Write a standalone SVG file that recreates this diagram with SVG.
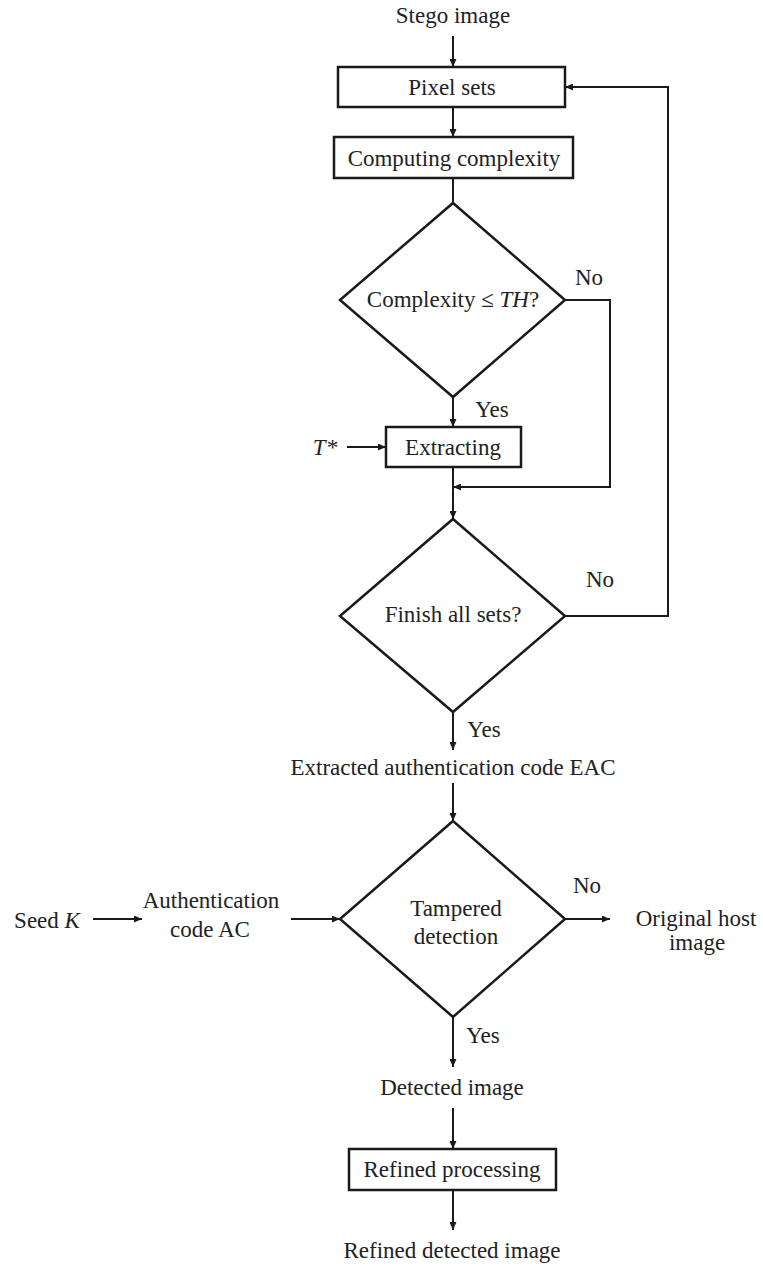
<svg xmlns="http://www.w3.org/2000/svg" width="763" height="1268" viewBox="0 0 763 1268">
<defs>
<marker id="arr" markerUnits="userSpaceOnUse" markerWidth="8" markerHeight="7" refX="8" refY="3.5" orient="auto">
<path d="M0,0 L8,3.5 L0,7 z" fill="#1a1a1a"/>
</marker>
<style>
text{font-family:"Liberation Serif","Times New Roman",serif;font-size:23px;fill:#222;text-anchor:middle}
.n{fill:#fff;stroke:#1a1a1a;stroke-width:2.5}
.c{fill:none;stroke:#1a1a1a;stroke-width:2}
.a{marker-end:url(#arr)}
.i{font-style:italic}
</style>
</defs>
<rect width="763" height="1268" fill="#fff"/>
<g id="connectors">
<line class="c a" x1="453" y1="36" x2="453" y2="67"/>
<line class="c a" x1="453" y1="107" x2="453" y2="137"/>
<line class="c" x1="453" y1="178" x2="453" y2="203"/>
<line class="c a" x1="453" y1="397" x2="453" y2="427"/>
<line class="c a" x1="347" y1="447" x2="386" y2="447"/>
<polyline class="c a" points="565,300 610,300 610,487 453,487"/>
<line class="c a" x1="453" y1="467" x2="453" y2="519"/>
<polyline class="c a" points="565,616 668,616 668,87 565,87"/>
<line class="c a" x1="453" y1="712" x2="453" y2="750"/>
<line class="c a" x1="453" y1="783" x2="453" y2="821"/>
<line class="c a" x1="93" y1="919" x2="142" y2="919"/>
<line class="c a" x1="291" y1="919" x2="340" y2="919"/>
<line class="c a" x1="565" y1="919" x2="610" y2="919"/>
<line class="c a" x1="453" y1="1017" x2="453" y2="1067"/>
<line class="c a" x1="453" y1="1108" x2="453" y2="1149"/>
<line class="c a" x1="453" y1="1190" x2="453" y2="1230"/>
</g>
<g id="labels">
<text x="589" y="285">No</text>
<text x="492" y="417">Yes</text>
<text x="600" y="587">No</text>
<text x="484" y="737">Yes</text>
<text x="587" y="893">No</text>
<text x="483" y="1043">Yes</text>
</g>
<g id="stego"><text x="453" y="23">Stego image</text></g>
<g id="pixel-sets"><rect class="n" x="338" y="67" width="227" height="40"/><text x="452" y="95">Pixel sets</text></g>
<g id="computing"><rect class="n" x="334" y="137" width="239" height="41"/><text x="454" y="166">Computing complexity</text></g>
<g id="complexity-check"><polygon class="n" points="453,203 565,300 453,397 340,300"/><text x="453" y="307">Complexity ≤ <tspan class="i">TH</tspan>?</text></g>
<g id="tstar"><text x="325" y="455" class="i">T*</text></g>
<g id="extracting"><rect class="n" x="386" y="427" width="135" height="40"/><text x="453" y="455">Extracting</text></g>
<g id="finish-check"><polygon class="n" points="453,519 565,616 453,712 340,616"/><text x="453" y="622">Finish all sets?</text></g>
<g id="eac"><text x="453" y="775">Extracted authentication code EAC</text></g>
<g id="seed"><text x="47" y="928">Seed <tspan class="i">K</tspan></text></g>
<g id="ac"><text x="211" y="908">Authentication</text><text x="210" y="937">code AC</text></g>
<g id="tampered-check"><polygon class="n" points="453,821 565,919 453,1017 340,919"/><text x="456" y="916">Tampered</text><text x="456" y="944">detection</text></g>
<g id="original"><text x="696" y="926">Original host</text><text x="697" y="950">image</text></g>
<g id="detected"><text x="452" y="1095">Detected image</text></g>
<g id="refined"><rect class="n" x="349" y="1149" width="207" height="41"/><text x="452" y="1177">Refined processing</text></g>
<g id="refined-out"><text x="452" y="1258">Refined detected image</text></g>
</svg>
